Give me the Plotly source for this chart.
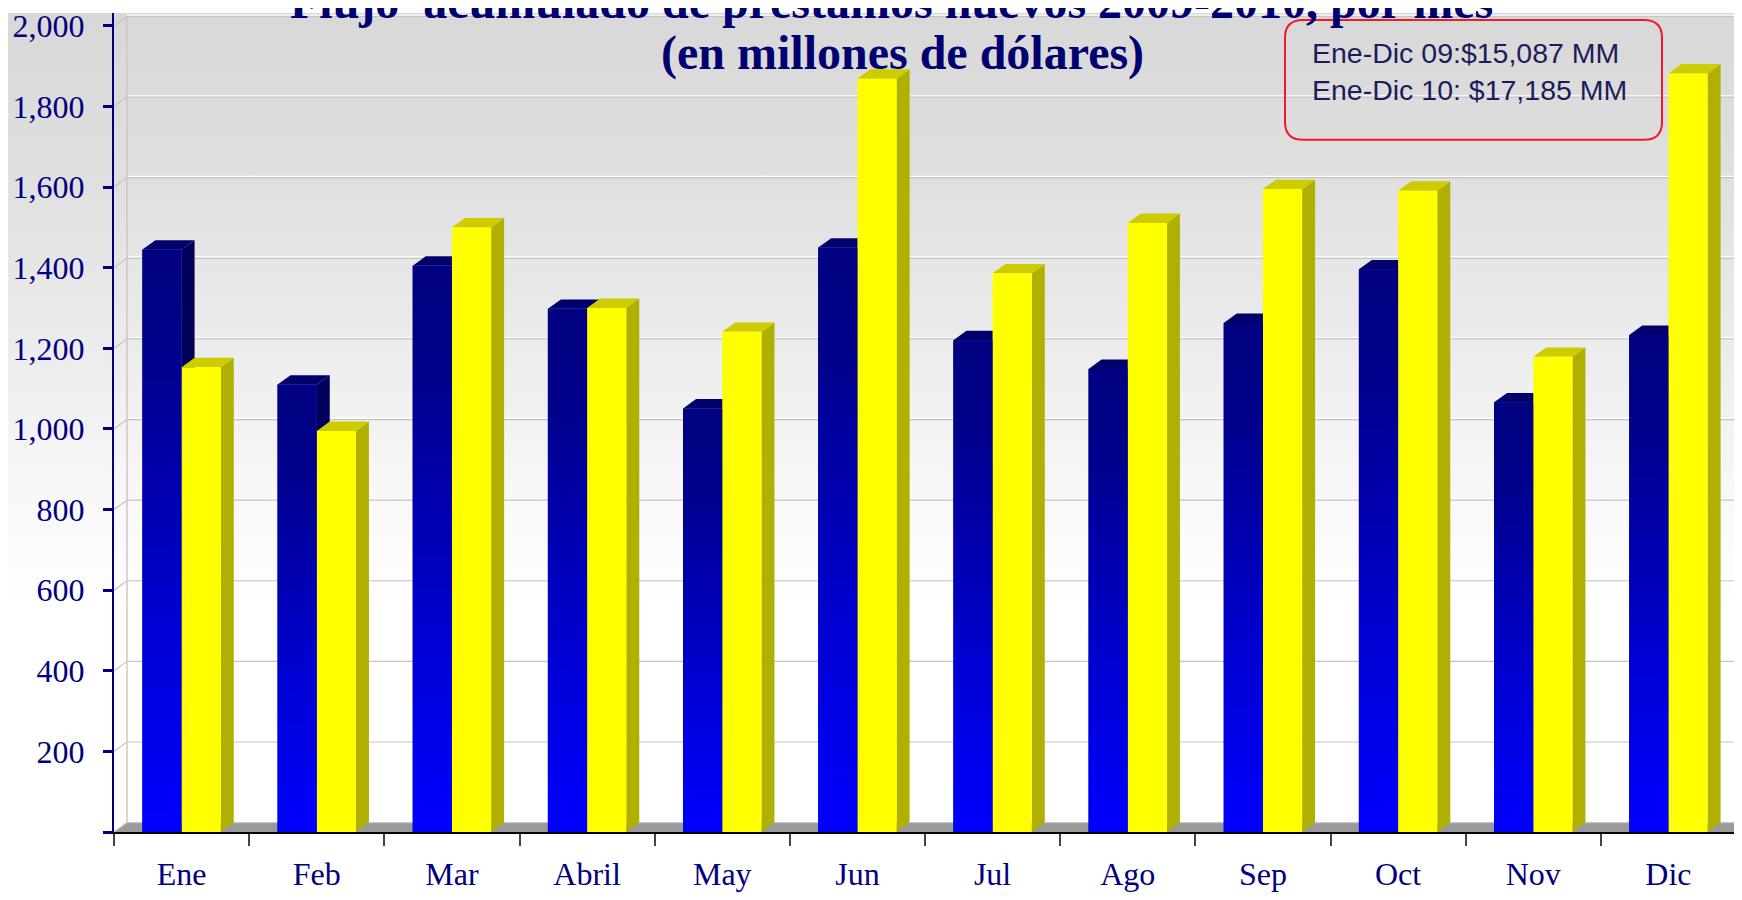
import base64
import plotly.graph_objects as go

# ---------------- data ----------------
months = ["Ene", "Feb", "Mar", "Abril", "May", "Jun", "Jul", "Ago", "Sep", "Oct", "Nov", "Dic"]
prestamos_2009 = [1445, 1110, 1405, 1298, 1051, 1450, 1220, 1149, 1263, 1396, 1066, 1233]
prestamos_2010 = [1153, 995, 1500, 1300, 1241, 1869, 1386, 1511, 1595, 1591, 1179, 1882]
y_tick_values = [0, 200, 400, 600, 800, 1000, 1200, 1400, 1600, 1800, 2000]
y_tick_labels = ["", "200", "400", "600", "800", "1,000", "1,200", "1,400", "1,600", "1,800", "2,000"]
title_line1 = "Flujo  acumulado de préstamos nuevos 2009-2010, por mes"
title_line2 = "(en millones de dólares)"
box_lines = ["Ene-Dic 09:$15,087 MM", "Ene-Dic 10: $17,185 MM"]

# ---------------- layout geometry ----------------
# the page body keeps an 8px margin on every side, so the figure is sized to fit inside it
OFF = 8
W, H = 1742 - OFF, 900 - 2 * OFF
L, R, T = 114 - OFF, 0, 0
B = H - (835 - OFF)
PW, PH = W - L - R, H - T - B
n = len(months)
PX_PER_CAT = 1622 / n
X_MIN = -0.5
X_MAX = X_MIN + PW / PX_PER_CAT
Y_MAX = PH * 2000 / 814
DX = 13 / PX_PER_CAT          # 3D depth (x)
DY = 9.5 * 2000 / 814         # 3D depth (y)
BAR_W = 0.29
NAVY = "#000080"

xs = list(range(n))


def xp(px):   # screen px -> paper
    return (px - OFF - L) / PW


def yp(py):
    return (H - B - (py - OFF)) / PH


def poly(pts):
    return "M " + " L ".join(f"{a},{b}" for a, b in pts) + " Z"


shapes = []
# floor
x_end = n - 0.5
shapes.append(dict(type="path", xref="x", yref="y", layer="below",
                   path=poly([(X_MIN, 0), (x_end, 0), (x_end + DX, DY), (X_MIN + DX, DY)]),
                   fillcolor="#9a9a9a", line=dict(width=0)))
# back-wall grid lines
px_unit = 2000 / 814
for t in y_tick_values:
    shapes.append(dict(type="line", xref="x", yref="y", layer="below",
                       x0=X_MIN + DX, x1=X_MAX, y0=t + DY + 1.2 * px_unit, y1=t + DY + 1.2 * px_unit,
                       line=dict(color="#ffffff", width=1.5)))
    shapes.append(dict(type="line", xref="x", yref="y", layer="below",
                       x0=X_MIN + DX, x1=X_MAX, y0=t + DY, y1=t + DY,
                       line=dict(color="#c4c4c4", width=1.2)))
    shapes.append(dict(type="line", xref="x", yref="y", layer="below",
                       x0=X_MIN, x1=X_MIN + DX, y0=t, y1=t + DY,
                       line=dict(color="#c4c4c4", width=1.2)))
# left wall
shapes.append(dict(type="line", xref="x", yref="y", layer="below",
                   x0=X_MIN + DX, x1=X_MIN + DX, y0=DY, y1=2000 + DY,
                   line=dict(color="#c8c8c8", width=1.5)))


# 3D side and top faces
def faces(values, offset, side_col, top_col):
    out = []
    for i, v in zip(xs, values):
        xl, xr = i + offset, i + offset + BAR_W
        out.append(dict(type="path", xref="x", yref="y", layer="below",
                        path=poly([(xr, 0), (xr + DX, DY), (xr + DX, v + DY), (xr, v)]),
                        fillcolor=side_col, line=dict(width=0)))
        out.append(dict(type="path", xref="x", yref="y", layer="below",
                        path=poly([(xl, v), (xl + DX, v + DY), (xr + DX, v + DY), (xr, v)]),
                        fillcolor=top_col, line=dict(width=0)))
    return out


shapes += faces(prestamos_2009, -BAR_W, "#000058", "#00006c")
shapes += faces(prestamos_2010, 0.0, "#b0b000", "#cccc00")

# rounded red box
bx0, by0, bx1, by1, rr = 1285, 15, 1662, 136, 18
path = (f"M {xp(bx0 + rr)},{yp(by0)} L {xp(bx1 - rr)},{yp(by0)} "
        f"Q {xp(bx1)},{yp(by0)} {xp(bx1)},{yp(by0 + rr)} "
        f"L {xp(bx1)},{yp(by1 - rr)} Q {xp(bx1)},{yp(by1)} {xp(bx1 - rr)},{yp(by1)} "
        f"L {xp(bx0 + rr)},{yp(by1)} Q {xp(bx0)},{yp(by1)} {xp(bx0)},{yp(by1 - rr)} "
        f"L {xp(bx0)},{yp(by0 + rr)} Q {xp(bx0)},{yp(by0)} {xp(bx0 + rr)},{yp(by0)} Z")
shapes.append(dict(type="path", xref="paper", yref="paper", layer="above",
                   path=path, line=dict(color="#ee1c24", width=2), fillcolor="rgba(0,0,0,0)"))

fig = go.Figure()
fig.add_trace(go.Bar(x=xs, y=prestamos_2009, width=BAR_W, offset=-BAR_W, name="2009",
                     marker=dict(color="#0000b4", line=dict(width=0))))
fig.add_trace(go.Bar(x=xs, y=prestamos_2010, width=BAR_W, offset=0, name="2010",
                     marker=dict(color="#ffff00", line=dict(width=0))))

blue_scale = [[0, "#0000ff"], [0.35, "#0000d2"], [0.65, "#0000a4"], [0.82, "#00008a"], [1, "#000080"]]
for i, v in zip(xs, prestamos_2009):
    xl, xr = i - BAR_W, i
    fig.add_trace(go.Scatter(x=[xl, xr, xr, xl, xl], y=[0, 0, v, v, 0], mode="lines",
                             fill="toself", fillgradient=dict(type="vertical", colorscale=blue_scale),
                             line=dict(width=0), hoverinfo="skip", showlegend=False))

# background gradient image
svg = ('<svg xmlns="http://www.w3.org/2000/svg" width="1742" height="900" preserveAspectRatio="none">'
       '<defs><linearGradient id="g" x1="0" y1="0" x2="0" y2="1">'
       '<stop offset="0" stop-color="#d8d8d8"/><stop offset="0.18" stop-color="#dfdfdf"/>'
       '<stop offset="0.38" stop-color="#ececec"/><stop offset="0.55" stop-color="#f8f8f8"/>'
       '<stop offset="0.68" stop-color="#ffffff"/><stop offset="1" stop-color="#ffffff"/>'
       '</linearGradient></defs><rect width="1742" height="900" fill="url(#g)"/></svg>')
bg_src = "data:image/svg+xml;base64," + base64.b64encode(svg.encode()).decode()

annotations = [
    dict(text=f"<b>{title_line1}</b>", xref="paper", yref="paper", x=xp(891), y=yp(25),
         xanchor="center", yanchor="bottom", showarrow=False,
         font=dict(family="Liberation Serif", size=48, color="#000070")),
    dict(text=f"<b>{title_line2}</b>", xref="paper", yref="paper", x=xp(902), y=yp(78),
         xanchor="center", yanchor="bottom", showarrow=False,
         font=dict(family="Liberation Serif", size=48, color="#000070")),
    dict(text="<br>".join(box_lines), xref="paper", yref="paper", x=xp(1310), y=yp(67),
         xanchor="left", yanchor="middle", align="left", showarrow=False,
         font=dict(family="Liberation Sans", size=28.5, color="#1c1c5c")),
]

fig.update_layout(
    width=W, height=H,
    margin=dict(l=L, r=R, t=T, b=B, pad=0),
    paper_bgcolor="#ffffff", plot_bgcolor="rgba(0,0,0,0)",
    showlegend=False, barmode="overlay",
    shapes=shapes, annotations=annotations,
    images=[dict(source=bg_src, xref="paper", yref="paper", x=-L / PW, y=1 + T / PH,
                 sizex=W / PW, sizey=H / PH, xanchor="left", yanchor="top",
                 sizing="stretch", layer="below")],
    xaxis=dict(type="linear", range=[X_MIN, X_MAX], tickmode="array", tickvals=xs, ticktext=months,
               ticks="", showgrid=False, zeroline=False, showline=True, linecolor="#000000", linewidth=2,
               tickfont=dict(family="Liberation Serif", size=32, color=NAVY), ticklabelstandoff=13,
               ticklabeloverflow="allow",
               minor=dict(tickmode="array", tickvals=[i - 0.5 for i in range(n + 1)], ticks="outside",
                          ticklen=12, tickcolor="#444444", tickwidth=1.5, showgrid=False)),
    yaxis=dict(range=[0, Y_MAX], tickmode="array", tickvals=y_tick_values, ticktext=y_tick_labels,
               ticks="outside", ticklen=9, tickwidth=3, tickcolor=NAVY, showgrid=False, zeroline=False,
               showline=True, linecolor=NAVY, linewidth=2, ticklabeloverflow="allow",
               tickfont=dict(family="Liberation Serif", size=32, color=NAVY), ticklabelstandoff=12),
)

fig.write_html("out.html")
